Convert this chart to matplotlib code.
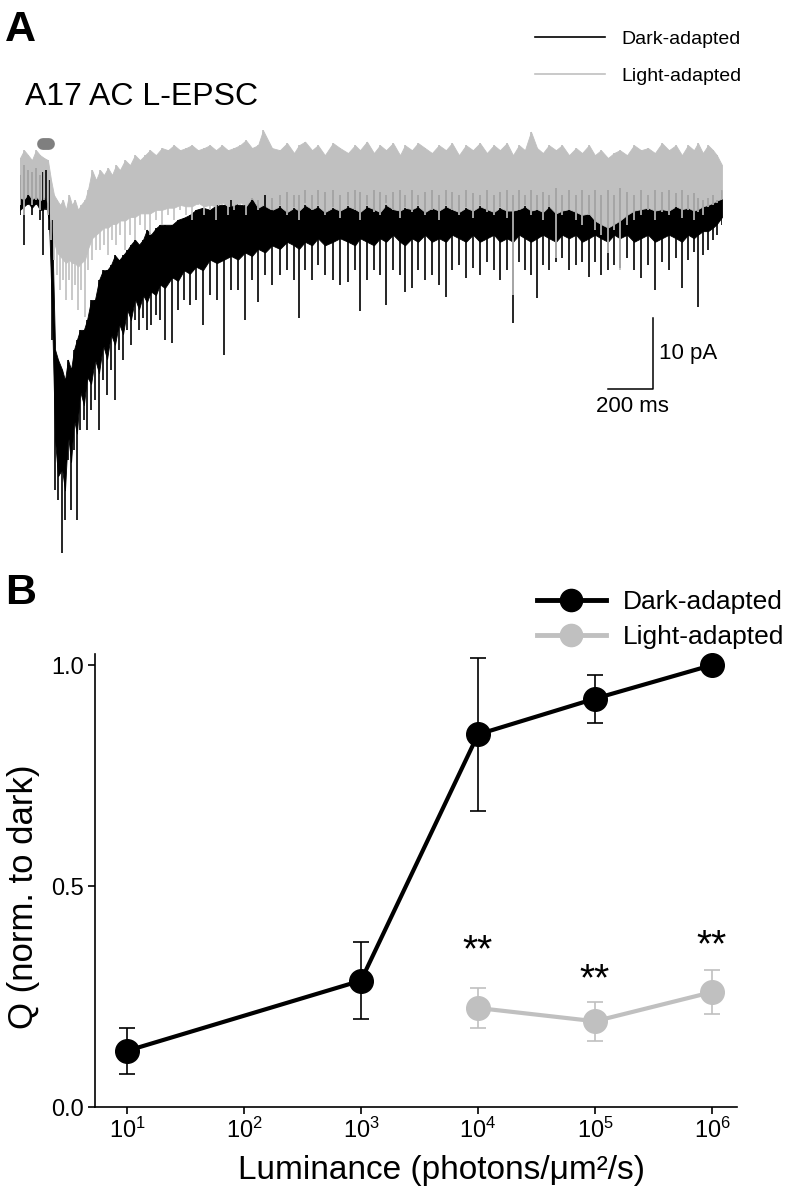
import numpy as np
import matplotlib.pyplot as plt
from matplotlib.lines import Line2D

plt.rcParams['font.family'] = ['Liberation Sans', 'DejaVu Sans']
plt.rcParams['mathtext.default'] = 'regular'
plt.rcParams['axes.linewidth'] = 1.2

# ---- panel A: A17 AC L-EPSC ----
# time in ms, current in pA (0 = pre-stimulus baseline)
# hi = top of the noise band, band = bottom of the dense band, lo = tip of downward events
t_dark = [0, 18, 36, 53, 71, 89, 102, 116, 129, 142, 156, 169, 187, 200, 213, 227, 240, 253,
          267, 284, 298, 316, 333, 351, 369, 387, 404, 422, 440, 458, 476, 493, 511, 529, 547,
          564, 582, 604, 622, 644, 676, 702, 729, 755, 782, 813, 844, 875, 907, 938, 969, 1000,
          1031, 1058, 1089, 1120, 1155, 1187, 1218, 1240, 1267, 1298, 1324, 1355, 1391, 1422,
          1458, 1489, 1511, 1542, 1573, 1600, 1627, 1658, 1689, 1711, 1742, 1769, 1800, 1831,
          1862, 1893, 1920, 1951, 1982, 2013, 2044, 2075, 2106, 2133, 2164, 2191, 2218, 2244,
          2271, 2298, 2324, 2351, 2382, 2409, 2440, 2471, 2498, 2529, 2555, 2582, 2613, 2640,
          2666, 2698, 2729, 2760, 2791, 2822, 2853, 2884, 2915, 2942, 2969, 2995, 3013, 3035,
          3058, 3080, 3097, 3120]
dark_hi = [1.4, 2.8, 2.1, 1.8, 2.4, 1.4, 1.8, 2.1, 0.7, -4.9, -23.2, -24.6, -26.0, -27.5, -24.6,
           -26.0, -23.2, -21.8, -20.4, -20.4, -19.0, -16.2, -16.2, -13.4, -12.0, -12.0, -11.3,
           -9.9, -10.6, -9.9, -9.2, -8.4, -7.7, -8.4, -7.7, -6.3, -7.0, -6.1, -5.6, -5.6, -5.6,
           -4.9, -4.6, -4.2, -3.5, -3.2, -3.5, -2.8, -2.8, -2.1, -2.8, -2.8, -1.8, -2.1, -1.4,
           -1.8, -1.4, -1.0, -1.4, -1.4, -0.7, -1.4, -0.7, -1.0, -0.7, -1.4, -1.0, -0.7, -1.0,
           -1.4, -0.7, -1.0, -1.4, -1.0, -0.7, -1.4, -0.7, -1.4, -1.0, -0.7, -1.4, -0.7, -1.0,
           -1.4, -0.7, -1.1, -1.4, -0.7, -1.4, -1.0, -0.7, -1.4, -0.7, -1.4, -0.7, -1.4, -1.0,
           -1.4, -0.4, -1.4, -0.7, -1.4, -0.7, -1.4, -0.7, -1.4, -0.7, -1.4, -0.4, -1.0, -1.4,
           -0.7, -1.4, -0.7, -1.0, -0.7, -1.1, -0.7, -1.4, -1.1, -1.8, -2.1, -1.8, -1.4, -2.1,
           -0.7]
dark_band = [-3.5, -3.0, -2.5, -3.2, -2.5, -3.5, -3.5, -3.0, -5.0, -18.0, -36.0, -41.0, -40.0,
             -43.0, -35.0, -39.0, -33.0, -35.0,
             -29.0, -31.0, -27.0, -28.0, -24.5, -26.5, -22.5, -24.5, -21.0, -22.5, -19.5, -21.0,
             -17.5, -19.0, -16.0, -17.5, -15.5,
             -16.5, -15.0, -15.5, -14.0, -14.5, -13.0, -13.5, -12.0, -12.5, -11.5, -12.0, -10.5,
             -11.0, -10.5, -10.0, -10.5, -9.5,
             -10.0, -9.0, -9.5, -8.5, -9.0, -8.0, -8.5, -9.0, -8.0, -8.5, -7.5, -8.5, -8.0, -7.5,
             -8.0, -8.5, -7.5, -8.0, -8.5, -7.5, -8.0, -7.0, -8.0, -8.5, -7.5, -8.0, -7.0, -8.0,
             -7.5, -8.0, -7.0, -7.5, -8.0, -7.0, -8.0, -7.5, -7.0, -8.0, -7.5, -8.0, -7.0, -7.5,
             -8.0, -7.5, -7.0, -7.5, -8.0, -7.0, -7.5, -7.0, -8.0, -7.5, -7.0, -7.5, -8.0, -7.0,
             -7.5, -7.0, -8.0, -7.5, -7.0, -8.0, -7.5, -7.0, -7.5, -8.0, -7.0, -7.5, -7.0, -6.5,
             -6.5, -6.0, -5.5, -4.5]
dark_lo = [-4.2, -8.4, -2.8, -4.2, -2.8, -4.9, -9.9, -3.5, -6.3, -21.8, -42.9, -44.4, -51.8,
           -47.2, -38.7, -45.8, -37.3, -47.2, -34.5, -33.1, -34.5, -31.7, -30.3, -34.5, -27.5,
           -29.6, -26.0, -30.3, -23.2, -24.6, -20.4, -22.5, -19.0, -20.4, -18.7, -20.4, -19.7,
           -18.3, -19.0, -21.8, -22.2, -17.6, -16.2, -16.9, -16.2, -19.7, -15.5, -16.2, -23.9,
           -14.8, -14.8, -19.0, -13.4, -16.5, -12.7, -14.1, -12.7, -12.0, -13.4, -18.7, -12.0,
           -13.4, -11.3, -12.7, -13.4, -14.1, -13.7, -12.0, -17.7, -13.4, -12.0, -12.7, -16.9,
           -12.0, -12.7, -15.1, -14.5, -12.0, -13.4, -12.7, -14.1, -15.8, -12.0, -11.3, -13.1,
           -11.7, -12.7, -10.8, -12.0, -13.4, -12.0, -19.4, -10.8, -12.0, -12.7, -15.9, -11.3,
           -12.0, -10.8, -10.3, -12.0, -11.3, -10.8, -13.0, -10.8, -12.7, -12.0, -11.3, -11.7,
           -10.3, -12.0, -13.1, -11.3, -14.8, -10.8, -12.0, -10.3, -14.5, -10.6, -9.4, -17.2,
           -9.9, -9.2, -7.7, -7.0, -5.6]

t_light = [0, 18, 36, 53, 71, 89, 107, 124, 138, 151, 164, 178, 191, 204, 218, 231, 244, 258,
           271, 289, 302, 320, 338, 356, 373, 391, 409, 427, 444, 467, 489, 511, 533, 556, 578,
           604, 631, 658, 684, 711, 738, 764, 791, 818, 844, 871, 898, 924, 951, 978, 1004, 1031,
           1058, 1080, 1120, 1155, 1187, 1218, 1240, 1267, 1298, 1324, 1355, 1391, 1422, 1458,
           1489, 1511, 1542, 1573, 1600, 1627, 1658, 1689, 1711, 1742, 1769, 1800, 1831, 1862,
           1893, 1920, 1951, 1982, 2013, 2044, 2075, 2106, 2133, 2164, 2191, 2218, 2244, 2271,
           2298, 2324, 2351, 2382, 2409, 2440, 2471, 2498, 2529, 2555, 2582, 2613, 2640, 2666,
           2698, 2729, 2760, 2791, 2822, 2853, 2884, 2915, 2942, 2969, 2995, 3013, 3035, 3058,
           3080, 3097, 3120]
light_hi = [3.8, 4.9, 4.2, 3.5, 4.9, 4.2, 3.8, 3.5, 0.7, -1.4, -2.1, -2.8, -2.1, -3.5, -1.4,
            -2.8, -2.1, -3.5, -2.8, -2.1, -0.7, 2.1, 0.7, 2.1, 1.4, 2.4, 1.4, 2.8, 2.1, 3.5, 2.8,
            4.2, 3.5, 4.2, 4.9, 4.2, 5.2, 4.9, 5.6, 4.9, 5.2, 5.6, 4.9, 5.2, 5.6, 4.9, 5.6, 4.9,
            5.2, 5.6, 6.3, 5.2, 5.6, 7.7, 5.2, 4.9, 5.9, 4.5, 5.6, 6.1, 4.9, 5.6, 4.2, 5.9, 5.2,
            4.5, 5.6, 4.9, 6.1, 4.5, 5.6, 4.9, 5.9, 4.2, 5.6, 4.9, 5.9, 5.2, 4.5, 5.6, 4.9, 5.9,
            4.2, 5.6, 4.9, 5.9, 4.5, 5.6, 4.9, 5.9, 4.2, 5.6, 4.9, 7.5, 5.2, 4.5, 5.6, 4.9, 5.6,
            4.2, 5.2, 4.5, 5.6, 4.2, 4.9, 3.8, 4.5, 4.9, 4.2, 5.6, 4.9, 5.2, 4.5, 5.9, 4.9, 5.6,
            4.2, 5.6, 4.9, 5.9, 4.5, 5.6, 4.9, 4.2, 2.8]
light_band = [-1.8, -2.0, -1.2, -2.0, -1.6, -2.2, -1.6, -2.5, -5.5, -8.0, -9.5, -10.0, -10.5,
              -11.0, -10.5, -11.0, -11.0, -11.5,
              -11.0, -10.5, -9.0, -7.5, -7.0, -6.5, -6.0, -6.0, -5.5, -5.5, -5.0, -5.0, -4.5,
              -4.5, -4.0, -4.0, -4.0,
              -3.5, -3.5, -3.2, -3.2, -2.8, -3.0, -3.0, -2.5, -3.0, -2.8, -3.0, -2.4, -3.0, -2.8,
              -2.4, -3.0, -1.8,
              -3.2, -2.8, -3.5, -3.0, -3.8, -3.2, -3.6, -2.8, -3.4, -3.0, -3.8, -3.2, -3.6, -3.0,
              -3.4, -3.8, -3.0, -3.4, -3.8, -2.8, -3.4, -3.6, -3.2, -3.4, -3.0, -3.8, -3.2, -3.6,
              -3.0, -3.4, -3.8, -3.2, -3.6, -3.0, -3.4, -3.8, -3.2, -3.6, -3.6, -3.4, -3.0, -3.6,
              -3.4, -3.8, -3.0, -4.0, -3.6, -3.4, -3.8, -4.2, -4.0, -5.0, -5.5, -6.0, -5.5, -5.0,
              -4.2, -3.6, -3.4, -3.2, -3.6, -3.4, -3.6, -3.0, -3.4, -3.2, -3.6, -3.4, -3.0, -2.8,
              -2.5, -2.2, -1.9]
light_lo = [-2.8, -4.2, -1.4, -2.8, -2.1, -3.5, -2.1, -4.2, -7.7, -10.6, -12.7, -14.8, -13.4,
            -16.2, -13.4, -16.2, -14.1, -17.6, -14.8, -18.6, -12.0, -10.6, -9.2, -9.2, -8.4,
            -9.9, -7.7, -8.4, -7.0, -9.2, -7.0, -7.7, -5.6, -6.3, -7.0, -4.9, -5.6, -4.2, -4.9,
            -3.5, -4.2, -4.9, -2.8, -4.2, -3.5, -4.9, -2.8, -4.2, -3.5, -2.8, -4.2, -2.1, -3.5,
            -2.8, -3.5, -2.8, -4.2, -3.1, -4.9, -2.5, -3.5, -2.8, -4.2, -3.1, -4.6, -2.8, -3.5,
            -4.9, -2.8, -3.8, -4.2, -2.5, -3.5, -4.6, -3.1, -3.8, -2.8, -4.2, -3.5, -4.9, -2.8,
            -3.5, -4.2, -3.1, -4.6, -2.8, -3.8, -4.2, -3.1, -4.6, -15.5, -3.5, -2.8, -4.2, -3.5,
            -4.9, -3.1, -10.3, -4.2, -3.5, -4.9, -5.6, -4.2, -6.3, -7.0, -9.6, -6.3, -12.0, -5.6,
            -4.9, -4.2, -3.5, -4.9, -3.8, -4.2, -3.1, -4.6, -3.5, -4.9, -3.8, -4.2, -3.1, -2.8,
            -2.5, -2.1]

stim_on, stim_off, stim_level = 102, 129, 5.8      # light stimulus marker
bar_t, bar_i = 200, 10                              # scale bar: 200 ms, 10 pA
bar_x0, bar_y0 = 2613, -28.7

# ---- panel B: charge vs luminance ----
lum_dark = [1e1, 1e3, 1e4, 1e5, 1e6]
q_dark = [0.127, 0.286, 0.843, 0.924, 1.0]
err_dark = [0.052, 0.088, 0.173, 0.054, 0.0]
lum_light = [1e4, 1e5, 1e6]
q_light = [0.224, 0.194, 0.260]
err_light = [0.046, 0.044, 0.050]
star_y = [0.33, 0.265, 0.34]

GREY = '#c0c0c0'


def trace(ax, t, hi, band, lo, color):
    n = min(len(t), len(hi), len(band), len(lo))
    t, hi, band, lo = t[:n], hi[:n], band[:n], lo[:n]
    ax.fill_between(t, hi, band, color=color, lw=0.6, edgecolor=color)
    ax.vlines(t, lo, band, color=color, lw=1.2)
    ax.vlines(t, band, hi, color=color, lw=1.2)


fig = plt.figure(figsize=(7.86, 11.89), dpi=100)

# ---------------- A ----------------
axA = fig.add_axes([20/786, 1-560/1189, 702/786, 440/1189])
trace(axA, t_dark, dark_hi, dark_band, dark_lo, 'black')
trace(axA, t_light, light_hi, light_band, light_lo, GREY)
axA.plot([stim_on, stim_off], [stim_level, stim_level], color='#7f7f7f', lw=8.5,
         solid_capstyle='round')
axA.plot([bar_x0, bar_x0 + bar_t, bar_x0 + bar_t], [bar_y0, bar_y0, bar_y0 + bar_i],
         color='black', lw=1.1)
axA.text(bar_x0 + bar_t + 25, bar_y0 + bar_i/2, '10 pA', ha='left', va='center', fontsize=16)
axA.text(bar_x0 + bar_t/2 + 10, bar_y0 - 1.0, '200 ms', ha='center', va='top', fontsize=16)
axA.set_xlim(0, 3120)
axA.set_ylim(-52.8, 9.15)
axA.axis('off')

hA = [Line2D([], [], color='black', lw=1.2), Line2D([], [], color=GREY, lw=1.2)]
fig.legend(hA, ['Dark-adapted', 'Light-adapted'], loc='upper left',
           bbox_to_anchor=(535/786, 1-30/1189), frameon=False, fontsize=14,
           handlelength=3.6, handletextpad=0.85, labelspacing=1.0, borderpad=0,
           borderaxespad=0)

fig.text(5/786, 1-41/1189, 'A', fontsize=31, weight='bold', va='baseline')
fig.text(25/786, 1-105/1189, 'A17 AC L-EPSC', fontsize=23, va='baseline')

# ---------------- B ----------------
axB = fig.add_axes([95/786, 1-1107/1189, 642/786, 453/1189])
axB.errorbar(lum_dark, q_dark, yerr=err_dark, color='black', lw=3, marker='o', ms=17,
             capsize=5.5, elinewidth=1.2, capthick=1.2, clip_on=False, zorder=3)
axB.errorbar(lum_light, q_light, yerr=err_light, color=GREY, lw=3, marker='o', ms=17,
             capsize=5.5, elinewidth=1.2, capthick=1.2, clip_on=False, zorder=2)
for lx, sy in zip(lum_light, star_y):
    axB.text(lx, sy, '**', ha='center', va='baseline', fontsize=28)

axB.set_xscale('log')
axB.set_xlim(10**0.7265, 10**6.2135)
axB.set_ylim(0, 1.025)
axB.set_xticks([1e1, 1e2, 1e3, 1e4, 1e5, 1e6])
axB.minorticks_off()
axB.set_yticks([0.0, 0.5, 1.0])
axB.set_yticklabels(['0.0', '0.5', '1.0'])
axB.tick_params(direction='out', length=5, width=1.2, labelsize=17, pad=3)
axB.spines['top'].set_visible(False)
axB.spines['right'].set_visible(False)
axB.set_xlabel('Luminance (photons/\u03bcm\u00b2/s)', fontsize=24)
axB.set_ylabel('Q (norm. to dark)', fontsize=25)
axB.xaxis.set_label_coords(0.54, -0.105)
axB.yaxis.set_label_coords(-0.085, 0.464)

hB = [Line2D([], [], color='black', lw=3.5, marker='o', ms=16),
      Line2D([], [], color=GREY, lw=3.5, marker='o', ms=16)]
fig.legend(hB, ['Dark-adapted', 'Light-adapted'], loc='upper left',
           bbox_to_anchor=(537/786, 1-590/1189), frameon=False, fontsize=19,
           handlelength=2.6, handletextpad=0.65, labelspacing=0.42, borderpad=0,
           borderaxespad=0, numpoints=1)

fig.text(5/786, 1-604/1189, 'B', fontsize=31, weight='bold', va='baseline')

fig.savefig('out.png', dpi=100)
